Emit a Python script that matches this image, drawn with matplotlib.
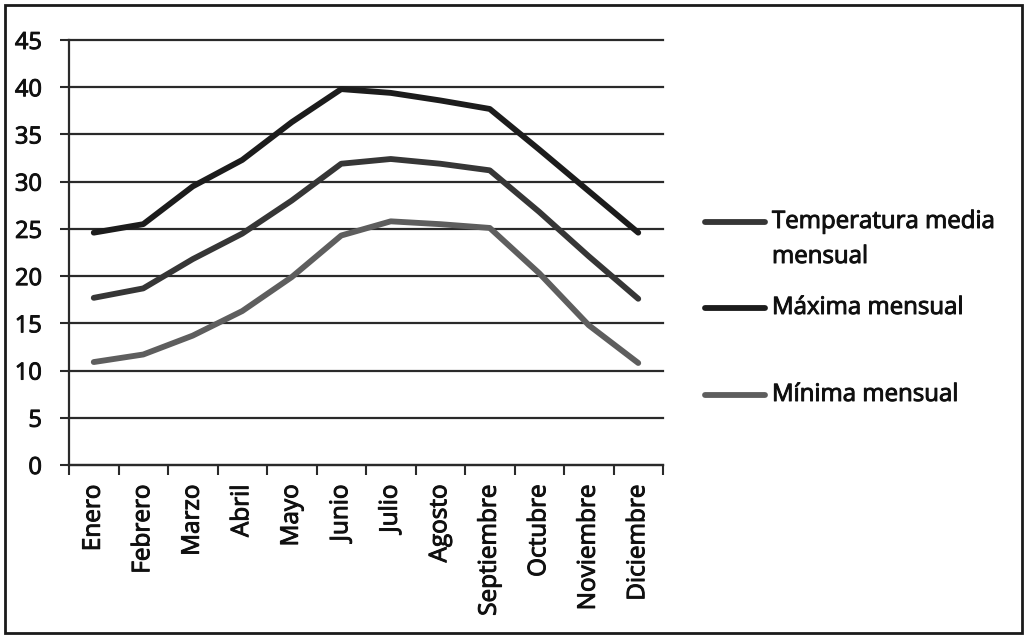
import matplotlib
matplotlib.use("Agg")
import matplotlib.pyplot as plt
import matplotlib.patheffects as pe
from matplotlib.lines import Line2D
from matplotlib.patches import Rectangle
import numpy as np

months = ["Enero", "Febrero", "Marzo", "Abril", "Mayo", "Junio", "Julio",
          "Agosto", "Septiembre", "Octubre", "Noviembre", "Diciembre"]
media = [17.7, 18.7, 21.8, 24.5, 28.0, 31.9, 32.4, 31.9, 31.2, 26.8, 22.1, 17.6]
maxima = [24.6, 25.5, 29.5, 32.3, 36.3, 39.8, 39.4, 38.6, 37.7, 33.4, 29.0, 24.6]
minima = [10.9, 11.7, 13.7, 16.3, 19.9, 24.3, 25.8, 25.5, 25.1, 20.3, 14.8, 10.8]
series_labels = ["Temperatura media\nmensual", "Máxima mensual", "Mínima mensual"]
yticks = [0, 5, 10, 15, 20, 25, 30, 35, 40, 45]

plt.rcParams['font.family'] = ['Open Sans', 'DejaVu Sans']

W, H = 1026, 637
fig = plt.figure(figsize=(W / 100, H / 100), dpi=100)
fig.patch.set_facecolor('white')

def fx(px):
    return px / W

def fy(py):
    return 1 - py / H

ax = fig.add_axes([fx(69), fy(465), fx(663) - fx(69), fy(40) - fy(465)])

grid_col = '#2a2a2a'
c_media = '#363636'
c_max = '#1c1c1c'
c_min = '#5e5e5e'
txt_col = '#101010'
heavy = [pe.withStroke(linewidth=0.7, foreground=txt_col)]

x = np.arange(len(months))
ax.plot(x, media, color=c_media, lw=4.2, solid_capstyle='round', zorder=3)
ax.plot(x, maxima, color=c_max, lw=4.2, solid_capstyle='round', zorder=3)
ax.plot(x, minima, color=c_min, lw=4.2, solid_capstyle='round', zorder=3)

ax.set_xlim(-0.5, len(months) - 0.5)
ax.set_ylim(0, 45)
ax.set_yticks(yticks)
ax.set_yticklabels([str(v) for v in yticks])
ax.yaxis.grid(True, color=grid_col, lw=1.6)
for gl in ax.get_ygridlines():
    gl.set_clip_on(False)
ax.set_axisbelow(True)

ax.set_xticks(x)
ax.set_xticklabels(months, rotation=90)
ax.set_xticks(np.arange(-0.5, len(months), 1.0), minor=True)
ax.tick_params(axis='x', which='major', length=0, pad=14, labelsize=17.5, colors=txt_col)
ax.tick_params(axis='x', which='minor', length=7, width=1.5, color=grid_col, direction='out')
ax.tick_params(axis='y', length=6.5, width=1.5, color=grid_col, pad=13, labelsize=17,
               labelcolor=txt_col)
for t in ax.get_xticklabels() + ax.get_yticklabels():
    t.set_path_effects(heavy)

for s in ['top', 'right']:
    ax.spines[s].set_visible(False)
for s in ['left', 'bottom']:
    ax.spines[s].set_color(grid_col)
    ax.spines[s].set_linewidth(1.6)

# legend (manual layout)
leg_y = [222, 308, 395]
leg_cols = [c_media, c_max, c_min]
for yy, col, lab in zip(leg_y, leg_cols, series_labels):
    fig.add_artist(Line2D([fx(705), fx(765)], [fy(yy), fy(yy)], color=col, lw=4.2,
                          solid_capstyle='round', transform=fig.transFigure))
    for k, part in enumerate(lab.split("\n")):
        fig.text(fx(772), fy(yy + 35 * k), part, va='center', ha='left', fontsize=17.3,
                 color=txt_col, path_effects=heavy)

fig.add_artist(Rectangle((fx(5), fy(633)), fx(1022) - fx(5), fy(5) - fy(633),
                         fill=False, edgecolor='#1a1a1a', lw=2, transform=fig.transFigure))

fig.savefig("out.png", dpi=100, facecolor='white')
